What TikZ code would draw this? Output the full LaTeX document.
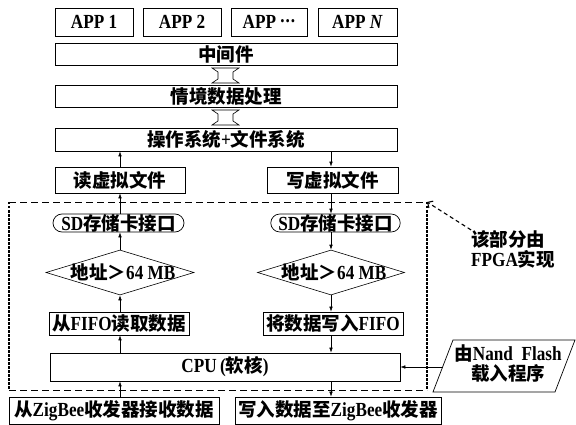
\documentclass[tikz,border=0pt]{standalone}
\usepackage{fontspec}
\setmainfont{Liberation Serif}[Scale=1.08, FakeStretch=0.86]
\newfontfamily\cjk{Noto Sans CJK SC}
\usetikzlibrary{arrows.meta,shapes.misc,shapes.geometric}
\newcommand\zh[1]{{\cjk #1}}
\newcommand\labfont{\fontsize{18.5}{20}\selectfont\bfseries}
\tikzset{
  box/.style={draw, line width=0.7pt, inner sep=0pt, font=\labfont, fill=white},
  roundbox/.style={box, rounded rectangle},
  decide/.style={draw, line width=0.6pt, diamond, inner sep=0pt},
  arr/.style={line width=0.6pt, -{Latex[length=5pt,width=3.6pt]}},
  hollow/.style={draw, line width=0.6pt, fill=white},
  fpgaarr/.style={line width=1.1pt, dash pattern=on 4pt off 3pt, -{Straight Barb[length=4pt,width=8pt]}},
  frameh/.style={line width=0.8pt, dash pattern=on 7pt off 4pt},
  framev/.style={line width=1.2pt, dash pattern=on 2.5pt off 1.5pt},
  txt/.style={font=\labfont, inner sep=0pt}
}
\begin{document}
\begin{tikzpicture}[x=1pt,y=-1pt]
\useasboundingbox (0,0) rectangle (576,425);
\coordinate (colL) at (120,0);
\coordinate (colR) at (331,0);
% FPGA frame
\coordinate (fTL) at (9,202);
\coordinate (fTR) at (427,202);
\coordinate (fBR) at (427,390);
\coordinate (fBL) at (9,390);
\draw[frameh] (fTL) -- (fTR);
\draw[frameh] (fBL) -- (fBR);
\draw[framev] (fTL) -- (fBL);
\draw[framev] (fTR) -- (fBR);
% top layers
\node[box, minimum width=78, minimum height=28] (app1) at (94,22) {APP 1};
\node[box, minimum width=78, minimum height=28] (app2) at (182,22) {APP 2};
\node[box, minimum width=76, minimum height=28] (app3) at (269,22) {APP \raisebox{0.3em}{.\kern1pt.\kern1pt.}};
\node[box, minimum width=79, minimum height=28] (app4) at (357.5,22) {APP \textit{N}};
\node[box, minimum width=342, minimum height=22] (mid) at (226,54) {\zh{中间件}};
\node[box, minimum width=342, minimum height=22] (ctx) at (226,96) {\zh{情境数据处理}};
\node[box, minimum width=342, minimum height=23] (os) at (226,139.5) {\zh{操作系统}+\zh{文件系统}};
% hollow double arrows
\draw[hollow] (212,68) -- (239,68) -- (233,72) -- (233,79) -- (239,83) -- (212,83) -- (218,79) -- (218,72) -- cycle;
\draw[hollow] (212,110) -- (239,110) -- (233,114) -- (233,121) -- (239,125) -- (212,125) -- (218,121) -- (218,114) -- cycle;
% virtual files
\node[box, minimum width=130, minimum height=26] (rvf) at (120,180) {\zh{读虚拟文件}};
\node[box, minimum width=131, minimum height=26] (wvf) at (332.5,180) {\zh{写虚拟文件}};
% SD
\node[roundbox, minimum width=131, minimum height=18] (sdL) at (118.5,223) {SD\zh{存储卡接口}};
\node[roundbox, minimum width=129, minimum height=18] (sdR) at (335.5,223) {SD\zh{存储卡接口}};
% diamonds
\node[decide, minimum width=148, minimum height=45] (dL) at (120,272.5) {};
\node[txt] (dLt) at (123,272.5) {\zh{地址＞}64 MB};
\node[decide, minimum width=147, minimum height=45] (dR) at (331,272.5) {};
\node[txt] (dRt) at (334,272.5) {\zh{地址＞}64 MB};
% FIFO
\node[box, minimum width=140, minimum height=23] (fifoL) at (119,323.5) {\zh{从}FIFO\zh{读取数据}};
\node[box, minimum width=140, minimum height=23] (fifoR) at (333,323.5) {\zh{将数据写入}FIFO};
% CPU
\node[box, minimum width=350, minimum height=28] (cpu) at (225,367) {CPU\,(\zh{软核})};
% ZigBee
\node[box, minimum width=210, minimum height=27] (zbL) at (114,410.5) {\zh{从}ZigBee\zh{收发器接收数据}};
\node[box, minimum width=206, minimum height=27] (zbR) at (338,410.5) {\zh{写入数据至}ZigBee\zh{收发器}};
% Nand flash parallelogram
\coordinate (nTL) at (453,340);
\coordinate (nTR) at (575,340);
\coordinate (nBR) at (555,392);
\coordinate (nBL) at (433,392);
\draw[line width=0.7pt] (nTL) -- (nTR) -- (nBR) -- (nBL) -- cycle;
\node[txt, align=center] (nand) at (508,364) {\zh{由}Nand\ \ Flash\\\zh{载入程序}};
\coordinate (nandW) at (443,367);
% FPGA note
\node[txt, align=left, anchor=west] (fpga) at (471,249) {\zh{该部分由}\\FPGA\zh{实现}};
% arrows left column (upward)
\draw[arr] (rvf.north -| colL) -- (os.south -| colL);
\draw[arr] (sdL.north -| colL) -- (rvf.south -| colL);
\draw[arr] (dL.north) -- (sdL.south -| colL);
\draw[arr] (fifoL.north -| colL) -- (dL.south);
\draw[arr] (cpu.north -| colL) -- (fifoL.south -| colL);
\draw[arr] (zbL.north -| colL) -- (cpu.south -| colL);
% arrows right column (downward)
\draw[arr] (os.south -| colR) -- (wvf.north -| colR);
\draw[arr] (wvf.south -| colR) -- (sdR.north -| colR);
\draw[arr] (sdR.south -| colR) -- (dR.north);
\draw[arr] (dR.south) -- (fifoR.north -| colR);
\draw[arr] (fifoR.south -| colR) -- (cpu.north -| colR);
\draw[arr] (cpu.south -| colR) -- (zbR.north -| colR);
% nand to cpu
\draw[arr] (nandW) -- (cpu.east);
% note arrow
\draw[fpgaarr] (fpga.north west) -- (fTR);
\end{tikzpicture}
\end{document}
